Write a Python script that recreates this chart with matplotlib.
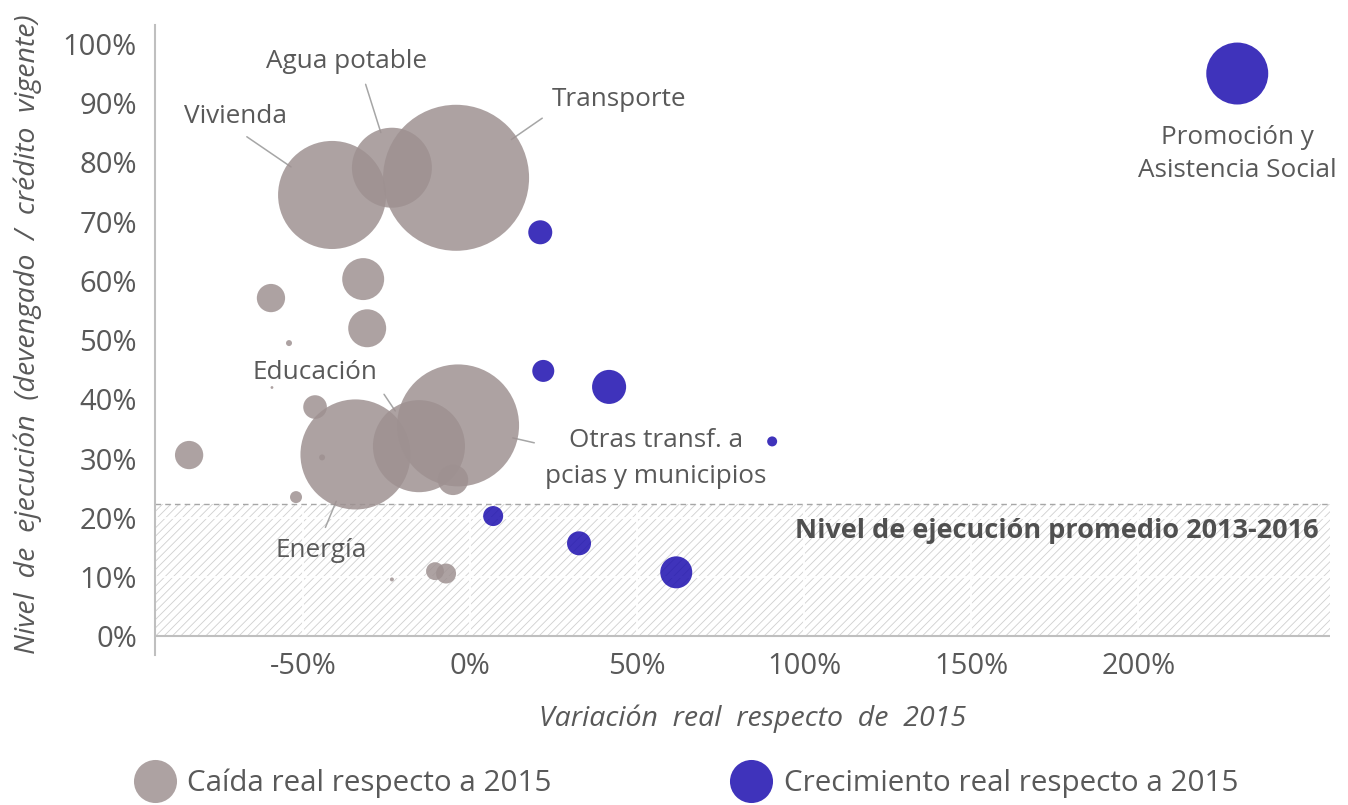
import matplotlib
matplotlib.use("Agg")
import matplotlib.pyplot as plt
from matplotlib.lines import Line2D
from matplotlib.ticker import FuncFormatter

# ── Data ───────────────────────────────────────────────────────────────────
# Caída real respecto a 2015
caida_nombre = ["Vivienda", "Agua potable", "Transporte", None, None, None, None,
                None, None, "Energía", "Educación",
                "Otras transf. a\npcias y municipios", None, None, None, None,
                None, None, None]
caida_var = [-41.3, -23.4, -4.2, -32.0, -59.6, -30.8, -54.2, -59.3, -46.4,
             -34.3, -15.3, -3.6, -5.1, -84.1, -44.3, -52.1, -23.4, -10.5, -7.2]
caida_ejec = [74.5, 79.1, 77.4, 60.3, 57.1, 52.0, 49.5, 42.0, 38.7,
              30.7, 32.1, 35.6, 26.4, 30.6, 30.2, 23.5, 9.6, 11.0, 10.6]
caida_credito = [29.2, 16.0, 53.3, 4.4, 2.0, 3.6, 0.09, 0.02, 1.4,
                 30.3, 21.2, 37.2, 2.3, 2.0, 0.09, 0.36, 0.04, 0.8, 1.0]

# Crecimiento real respecto a 2015
crec_nombre = ["Promoción y\nAsistencia Social", None, None, None, None, None, None, None]
crec_var = [229.6, 21.0, 21.9, 41.6, 90.4, 6.9, 32.6, 61.7]
crec_ejec = [95.0, 68.2, 44.8, 42.1, 32.9, 20.3, 15.7, 10.8]
crec_credito = [9.6, 1.44, 1.21, 2.9, 0.25, 1.0, 1.44, 2.56]

promedio_2013_2016 = 22.3

x_ticks = [-50, 0, 50, 100, 150, 200]
y_ticks = [0, 10, 20, 30, 40, 50, 60, 70, 80, 90, 100]

# ── Style ─────────────────────────────────────────────────────────────────
plt.rcParams.update({
    "font.family": ["Open Sans", "DejaVu Sans"],
    "text.color": "#595959",
    "xtick.color": "#595959",
    "ytick.color": "#595959",
    "axes.labelcolor": "#595959",
    "hatch.linewidth": 0.6,
})

GRIS = "#9e9191"
AZUL = "#1a0cae"
ALPHA = 0.84
LINEA = "#bfbfbf"
SIZE_K = 207.4  # credito -> marker area (pt^2)

# where each label sits and where its leader line leaves the text box
etiquetas = {
    "Vivienda": ((-70.1, 87.7), (0.5, 0.0)),
    "Agua potable": ((-37.1, 97.1), (0.6, 0.0)),
    "Transporte": ((44.6, 90.7), (0.0, 0.0)),
    "Educación": ((-46.4, 44.6), (1.0, 0.0)),
    "Otras transf. a\npcias y municipios": ((55.6, 30.0), (0.0, 0.72)),
    "Energía": ((-44.6, 14.5), (0.5, 1.0)),
}

fig = plt.figure(figsize=(13.48, 8.05), dpi=100)
ax = fig.add_axes([0.115, 0.186, 0.872, 0.783])

ax.set_xlim(-94.3, 257.5)
ax.set_ylim(-3.2, 103.2)

# shaded band below the 2013-2016 average
ax.axhspan(0, promedio_2013_2016, facecolor="white", edgecolor="#d0d0d0",
           hatch="////", linewidth=0, zorder=0)
ax.axhline(promedio_2013_2016, color="#a6a6a6", lw=1.0, ls=(0, (4, 3)), zorder=1)
ax.axhline(0, color=LINEA, lw=1.5, zorder=1)

ax.set_axisbelow(True)
ax.grid(True, color="white", lw=1.3)

ax.scatter(caida_var, caida_ejec, s=[c * SIZE_K for c in caida_credito],
           color=GRIS, alpha=ALPHA, linewidths=0, zorder=3)
ax.scatter(crec_var, crec_ejec, s=[c * SIZE_K for c in crec_credito],
           color=AZUL, alpha=ALPHA, linewidths=0, zorder=3)

# labels with leader lines
for nombre, x, y, cred in zip(caida_nombre, caida_var, caida_ejec, caida_credito):
    if nombre is None:
        continue
    pos, rel = etiquetas[nombre]
    r_pt = (cred * SIZE_K) ** 0.5 / 2
    ax.annotate(nombre, xy=(x, y), xytext=pos, fontsize=18.8, ha="center",
                va="center", multialignment="center", linespacing=1.55, zorder=2,
                arrowprops=dict(arrowstyle="-", color="#a6a6a6", lw=1.1,
                                shrinkA=6, shrinkB=r_pt * 0.92, relpos=rel))

ax.text(crec_var[0], crec_ejec[0] - 13.6, crec_nombre[0], fontsize=18.8,
        ha="center", va="center", multialignment="center", linespacing=1.45)

ax.text(253.9, 17.7, "Nivel de ejecución promedio 2013-2016", fontsize=19.5,
        fontweight="bold", color="#505050", ha="right", va="center", zorder=4)

# axes
for side in ("top", "right", "bottom"):
    ax.spines[side].set_visible(False)
ax.spines["left"].set_color(LINEA)
ax.spines["left"].set_linewidth(1.5)

ax.set_xticks(x_ticks)
ax.set_yticks(y_ticks)
ax.xaxis.set_major_formatter(FuncFormatter(lambda v, _: f"{int(v)}%"))
ax.yaxis.set_major_formatter(FuncFormatter(lambda v, _: f"{int(v)}%"))
ax.tick_params(axis="both", length=0, labelsize=21)
ax.tick_params(axis="y", pad=13)
ax.tick_params(axis="x", pad=-2)

ax.set_xlabel("Variación  real  respecto  de  2015", fontsize=20.5, fontstyle="italic")
ax.xaxis.set_label_coords(0.508, -0.1)
ax.xaxis.label.set_verticalalignment("center")
ax.set_ylabel("Nivel  de  ejecución  (devengado  /  crédito  vigente)", fontsize=20.5,
              fontstyle="italic")
ax.yaxis.set_label_coords(-0.108, 0.51)
ax.yaxis.label.set_verticalalignment("center")

handles = [
    Line2D([], [], marker="o", ls="", markersize=31, markeredgewidth=0,
           color=GRIS, alpha=ALPHA),
    Line2D([], [], marker="o", ls="", markersize=31, markeredgewidth=0,
           color=AZUL, alpha=ALPHA),
]
fig.legend(handles, ["Caída real respecto a 2015", "Crecimiento real respecto a 2015"],
           loc="center", bbox_to_anchor=(0.509, 0.027), ncol=2, frameon=False,
           fontsize=21.3, handlelength=1.4, handletextpad=0.4, columnspacing=6.05,
           labelcolor="#595959")

fig.savefig("out.png", dpi=100)
